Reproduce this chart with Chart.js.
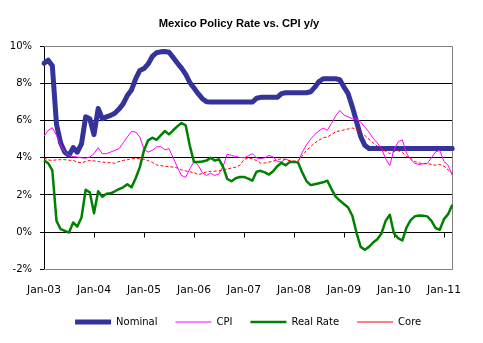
<!DOCTYPE html>
<html>
<head>
<meta charset="utf-8">
<script src="https://cdn.jsdelivr.net/npm/chart.js@4/dist/chart.umd.min.js"></script>
<style>
  html, body { margin: 0; padding: 0; background: #fff; }
  #wrap { width: 483px; height: 343px; }
</style>
</head>
<body>
<div id="wrap"><canvas id="c" width="483" height="343"></canvas></div>
<script>
// Monthly observations, Jan-03 through Mar-11
const monthNames = ['Jan','Feb','Mar','Apr','May','Jun','Jul','Aug','Sep','Oct','Nov','Dec'];
const months = [];
for (let k = 0; k < 99; k++) {
  const yy = 3 + Math.floor(k / 12);
  months.push(monthNames[k % 12] + '-' + String(yy).padStart(2, '0'));
}

// Policy rate (overnight), %
const nominal = [
  9.08, 9.25, 8.95, 5.8, 4.8, 4.3, 4.13, 4.55, 4.3, 4.75, 6.2, 6.1,
  5.25, 6.65, 6.1, 6.2, 6.28, 6.4, 6.62, 6.9, 7.35, 7.65, 8.25, 8.7,
  8.8, 9.05, 9.45, 9.65, 9.7, 9.72, 9.68, 9.4, 9.1, 8.82, 8.5, 8.05,
  7.75, 7.45, 7.18, 7.02, 7.0, 7.0, 7.0, 7.0, 7.0, 7.0, 7.0, 7.0,
  7.0, 7.0, 7.0, 7.2, 7.25, 7.25, 7.25, 7.25, 7.25, 7.45, 7.5, 7.5,
  7.5, 7.5, 7.5, 7.5, 7.55, 7.8, 8.1, 8.25, 8.25, 8.25, 8.25, 8.2,
  7.8, 7.45, 6.75, 5.95, 5.15, 4.67, 4.5, 4.5, 4.5, 4.5, 4.5, 4.5,
  4.5, 4.5, 4.5, 4.5, 4.5, 4.5, 4.5, 4.5, 4.5, 4.5, 4.5, 4.5,
  4.5, 4.5, 4.5
];

// Headline CPI, y/y %
const cpi = [
  5.15, 5.48, 5.62, 5.21, 4.67, 4.31, 4.13, 4.07, 4.04, 4.0, 3.98, 4.04,
  4.22, 4.54, 4.22, 4.22, 4.31, 4.4, 4.49, 4.8, 5.12, 5.41, 5.39, 5.12,
  4.45, 4.31, 4.4, 4.58, 4.61, 4.43, 4.49, 4.0, 3.5, 3.05, 2.95, 3.4,
  3.8, 3.6, 3.2, 3.05, 3.17, 3.05, 3.14, 3.55, 4.2, 4.13, 4.07, 4.02,
  4.0, 4.1, 4.22, 4.0, 3.95, 4.0, 4.13, 4.04, 3.82, 3.77, 3.95, 3.82,
  3.74, 3.78, 4.3, 4.7, 5.0, 5.26, 5.45, 5.6, 5.48, 5.85, 6.25, 6.55,
  6.3, 6.2, 6.1, 6.1, 5.92, 5.65, 5.38, 5.05, 4.8, 4.5, 3.95, 3.58,
  4.45, 4.85, 4.97, 4.25, 3.92, 3.7, 3.64, 3.68, 3.7, 4.0, 4.32, 4.4,
  3.8, 3.6, 3.05
];

// Real policy rate (nominal less CPI), %
const realRate = [
  3.86, 3.71, 3.32, 0.61, 0.16, 0.07, -0.02, 0.52, 0.3, 0.79, 2.28, 2.14,
  1.02, 2.2, 1.91, 2.07, 2.09, 2.2, 2.32, 2.41, 2.58, 2.41, 2.9, 3.5,
  4.4, 4.94, 5.08, 4.97, 5.2, 5.44, 5.26, 5.48, 5.69, 5.87, 5.75, 4.65,
  3.77, 3.77, 3.8, 3.85, 4.0, 3.85, 3.92, 3.5, 2.86, 2.74, 2.9, 2.97,
  2.97, 2.88, 2.77, 3.25, 3.3, 3.22, 3.1, 3.28, 3.55, 3.73, 3.6, 3.77,
  3.78, 3.74, 3.2, 2.75, 2.53, 2.58, 2.63, 2.68, 2.77, 2.32, 1.91, 1.7,
  1.51, 1.33, 0.88, -0.02, -0.79, -0.95, -0.79, -0.56, -0.38, -0.07, 0.61, 0.94,
  -0.07, -0.32, -0.45, 0.25, 0.65, 0.85, 0.9, 0.88, 0.85, 0.61, 0.22, 0.13,
  0.7, 0.97, 1.48
];

// Core CPI, y/y %
const core = [
  4.0, 3.88, 3.86, 3.89, 3.9, 3.9, 3.87, 3.86, 3.77, 3.73, 3.8, 3.86,
  3.83, 3.8, 3.77, 3.74, 3.73, 3.71, 3.8, 3.86, 3.9, 3.95, 3.96, 3.95,
  3.92, 3.85, 3.75, 3.62, 3.58, 3.55, 3.52, 3.5, 3.45, 3.35, 3.3, 3.25,
  3.2, 3.1, 3.15, 3.25, 3.27, 3.28, 3.3, 3.35, 3.4, 3.45, 3.5, 3.6,
  3.9, 4.0, 3.95, 3.85, 3.72, 3.72, 3.77, 3.82, 3.9, 3.95, 3.9, 3.85,
  3.82, 3.85, 4.1, 4.4, 4.6, 4.8, 4.95, 5.08, 5.12, 5.25, 5.4, 5.45,
  5.5, 5.55, 5.6, 5.55, 5.38, 5.2, 5.0, 4.8, 4.62, 4.5, 4.35, 4.22,
  4.35, 4.38, 4.3, 4.08, 3.97, 3.8, 3.72, 3.69, 3.68, 3.65, 3.6, 3.64,
  3.55, 3.35, 3.15
];

// Value axis
const yMin = -2, yMax = 10, yStep = 2;

Chart.defaults.font.family = 'DejaVu Sans';
Chart.defaults.color = '#000';

// Plot frame (top/right/bottom) and category tick marks hanging below the zero line
const framePlugin = {
  id: 'framePlugin',
  beforeDatasetsDraw(chart) {
    const { ctx, chartArea: a, scales: { x, y } } = chart;
    ctx.save();
    ctx.lineWidth = 1;
    ctx.strokeStyle = '#808080';
    ctx.beginPath();
    ctx.moveTo(a.left, Math.round(a.top) + 0.5);
    ctx.lineTo(Math.round(a.right) + 0.5, Math.round(a.top) + 0.5);
    ctx.lineTo(Math.round(a.right) + 0.5, Math.round(a.bottom) + 0.5);
    ctx.lineTo(a.left, Math.round(a.bottom) + 0.5);
    ctx.stroke();
    const y0 = Math.round(y.getPixelForValue(0)) + 0.5;
    ctx.strokeStyle = '#000';
    ctx.beginPath();
    months.forEach((m, i) => {
      if (m.startsWith('Jan')) {
        const px = Math.round(x.getPixelForValue(i)) + 0.5;
        ctx.moveTo(px, y0);
        ctx.lineTo(px, y0 + 5);
      }
    });
    ctx.stroke();
    ctx.restore();
  }
};

new Chart(document.getElementById('c'), {
  type: 'line',
  data: {
    labels: months,
    datasets: [
      { label: 'Nominal', data: nominal, borderColor: '#333399', backgroundColor: '#333399',
        borderWidth: 5, borderJoinStyle: 'round', borderCapStyle: 'round', order: 4 },
      { label: 'CPI', data: cpi, borderColor: '#FF00FF', backgroundColor: '#FF00FF',
        borderWidth: 1, order: 3 },
      { label: 'Real Rate', data: realRate, borderColor: '#008000', backgroundColor: '#008000',
        borderWidth: 2.5, borderJoinStyle: 'round', order: 2 },
      { label: 'Core', data: core, borderColor: '#FF0000', backgroundColor: '#FF0000',
        borderWidth: 1, borderDash: [3, 2], order: 1 }
    ]
  },
  options: {
    responsive: false,
    animation: false,
    events: [],
    elements: { point: { radius: 0 }, line: { tension: 0 } },
    layout: { padding: { left: 0, right: 5, top: 0, bottom: 6 } },
    scales: {
      x: {
        type: 'category',
        offset: false,
        grid: { display: false, drawTicks: false },
        border: { display: true, color: '#808080' },
        ticks: {
          autoSkip: false, maxRotation: 0, minRotation: 0, padding: 14.6,
          font: { size: 10.7 }, color: '#000',
          callback: (v, i) => months[i].startsWith('Jan') ? months[i] : ''
        },
        afterFit: (scale) => { scale.height -= 12.4; }
      },
      y: {
        min: yMin, max: yMax,
        ticks: { stepSize: yStep, padding: 8, font: { size: 10 }, color: '#000',
                 callback: (v) => v + '%' },
        grid: {
          color: (c) => (c.tick && (c.tick.value === yMax || c.tick.value === yMin)) ? '#808080' : '#000',
          tickColor: '#000', tickLength: 4, drawTicks: true, lineWidth: 1
        },
        border: { display: true, color: '#000' },
        afterFit: (scale) => { scale.width = 44; }
      },
      // empty right-hand margin beside the plot
      yRight: {
        position: 'right',
        min: yMin, max: yMax,
        grid: { display: false, drawTicks: false },
        border: { display: false },
        ticks: { display: false },
        afterFit: (scale) => { scale.width = 25.7; }
      }
    },
    plugins: {
      tooltip: { enabled: false },
      title: {
        display: true,
        text: 'Mexico Policy Rate vs. CPI y/y',
        color: '#000',
        font: { family: 'Liberation Sans', weight: 'bold', size: 11.2 },
        padding: { top: 17.4, bottom: 15.4 }
      },
      legend: {
        position: 'bottom',
        fullSize: false,
        labels: {
          usePointStyle: true, pointStyle: 'line', pointStyleWidth: 36,
          padding: 18, color: '#000', font: { size: 10 },
          sort: (a, b) => a.datasetIndex - b.datasetIndex
        }
      }
    }
  },
  plugins: [framePlugin]
});
</script>
</body>
</html>
